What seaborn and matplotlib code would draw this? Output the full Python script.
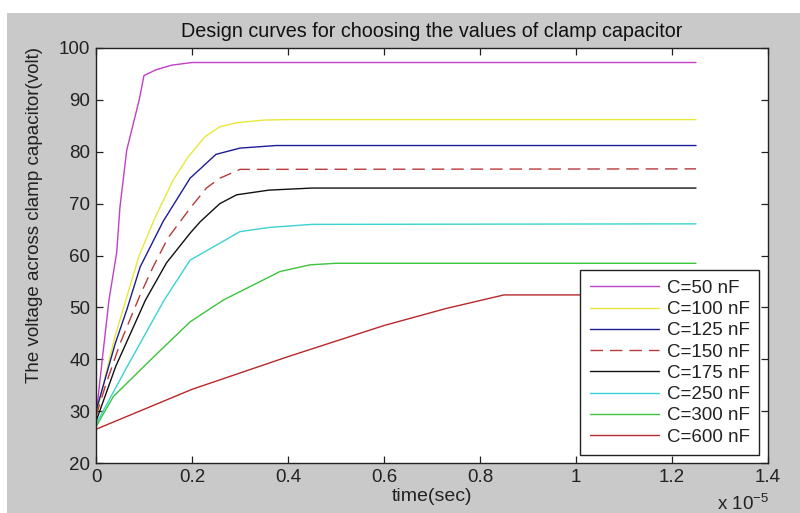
import matplotlib
matplotlib.use("Agg")
import matplotlib.pyplot as plt
from matplotlib.patches import Rectangle
import seaborn as sns
import pandas as pd

# ---- data (time in units of 1e-5 s, voltage in volt) ----
labels = ["C=50 nF", "C=100 nF", "C=125 nF", "C=150 nF",
          "C=175 nF", "C=250 nF", "C=300 nF", "C=600 nF"]

t_50 = [0, 0.013, 0.027, 0.043, 0.05, 0.064, 0.09, 0.1, 0.125, 0.158, 0.2, 1.25]
v_50 = [29, 39.9, 51.4, 60.5, 69.4, 80.3, 90.0, 94.7, 95.8, 96.7, 97.2, 97.2]

t_100 = [0, 0.02, 0.04, 0.064, 0.09, 0.123, 0.161, 0.192, 0.227, 0.258, 0.293, 0.35, 0.4, 1.25]
v_100 = [29, 37, 44.5, 52, 60, 67.3, 74.6, 79.0, 82.9, 84.8, 85.6, 86.1, 86.2, 86.2]

t_125 = [0, 0.02, 0.04, 0.064, 0.092, 0.14, 0.196, 0.25, 0.3, 0.375, 1.25]
v_125 = [30, 36.5, 43, 49.5, 57.8, 66.6, 74.9, 79.5, 80.7, 81.2, 81.2]

t_150 = [0, 0.02, 0.05, 0.092, 0.119, 0.15, 0.196, 0.23, 0.258, 0.3, 1.25]
v_150 = [29, 35, 43, 52.4, 57.8, 63.4, 69.1, 73.0, 74.9, 76.6, 76.7]

t_175 = [0, 0.041, 0.103, 0.147, 0.196, 0.217, 0.258, 0.293, 0.36, 0.45, 1.25]
v_175 = [28, 38.6, 51.4, 58.6, 64.3, 66.5, 70.0, 71.7, 72.6, 73.0, 73.0]

t_250 = [0, 0.065, 0.142, 0.196, 0.3, 0.36, 0.45, 1.25]
v_250 = [27.5, 38.6, 51.4, 59.1, 64.6, 65.4, 66.0, 66.1]

t_300 = [0, 0.036, 0.115, 0.196, 0.265, 0.383, 0.446, 0.5, 1.25]
v_300 = [27, 32.8, 40.0, 47.2, 51.4, 56.9, 58.2, 58.5, 58.5]

t_600 = [0, 0.2, 0.4, 0.45, 0.6, 0.73, 0.85, 1.25]
v_600 = [26.5, 34.2, 40.5, 42.0, 46.5, 49.8, 52.4, 52.4]

series_t = [t_50, t_100, t_125, t_150, t_175, t_250, t_300, t_600]
series_v = [v_50, v_100, v_125, v_150, v_175, v_250, v_300, v_600]

x_ticks = [0, 0.2, 0.4, 0.6, 0.8, 1.0, 1.2, 1.4]
x_ticklabels = ["0", "0.2", "0.4", "0.6", "0.8", "1", "1.2", "1.4"]
y_ticks = [20, 30, 40, 50, 60, 70, 80, 90, 100]

colors = ["#c040c8", "#e8e83a", "#1c1c96", "#b83a3a",
          "#111111", "#3ad2d2", "#3cc43c", "#b82828"]
styles = ["-", "-", "-", (0, (9, 5)), "-", "-", "-", "-"]

# ---- build table ----
rows = []
for lab, ts, vs in zip(labels, series_t, series_v):
    for t, v in zip(ts, vs):
        rows.append({"series": lab, "t": t, "v": v})
df = pd.DataFrame(rows)

sns.set_theme(style="ticks")
plt.rcParams["font.family"] = ["Liberation Sans", "DejaVu Sans"]

fig = plt.figure(figsize=(8.0, 5.13), dpi=100)
fig.patch.set_facecolor("white")
fig.patches.append(Rectangle((7 / 800, 0), 1, (513 - 13) / 513,
                             transform=fig.transFigure, facecolor="#c9c9c9",
                             edgecolor="none", zorder=-10))

ax = fig.add_axes([96 / 800, (513 - 463) / 513, (768 - 96) / 800, (463 - 48) / 513])
ax.set_facecolor("white")

for lab, col, ls in zip(labels, colors, styles):
    sub = df[df["series"] == lab]
    sns.lineplot(data=sub, x="t", y="v", ax=ax, color=col, linestyle=ls,
                 linewidth=1.0, label=lab, sort=False, estimator=None)

ax.set_xlim(0, 1.4)
ax.set_ylim(20, 100)
ax.set_xticks(x_ticks)
ax.set_xticklabels(x_ticklabels)
ax.set_yticks(y_ticks)
ax.tick_params(direction="in", top=True, right=True, length=5, width=0.9,
               labelsize=13.5, colors="#222222", pad=4)
for sp in ax.spines.values():
    sp.set_color("#222222")
    sp.set_linewidth(1.0)

ax.set_xlabel("time(sec)", fontsize=14, color="#222222", labelpad=2)
ax.set_ylabel("The voltage across clamp capacitor(volt)", fontsize=13.5, color="#222222")
ax.yaxis.set_label_coords(-0.079, 0.598)
ax.set_title("Design curves for choosing the values of clamp capacitor",
             fontsize=14.2, color="#111111", pad=8)

fig.text(717 / 800, 1 - 510 / 513, r"x 10$^{\mathregular{-5}}$", fontsize=13.5,
         color="#222222", va="baseline", ha="left")

leg = ax.legend(loc="lower right", bbox_to_anchor=(1.0 - 9 / 672, 8 / 415),
                fontsize=13.5, frameon=True, fancybox=False, framealpha=1,
                edgecolor="#222222", handlelength=3.7, handletextpad=0.4,
                labelspacing=0.22, borderpad=0.5, borderaxespad=0)
leg.get_frame().set_linewidth(1.0)
for txt in leg.get_texts():
    txt.set_color("#222222")

fig.savefig("out.png", dpi=100, facecolor=fig.get_facecolor())
